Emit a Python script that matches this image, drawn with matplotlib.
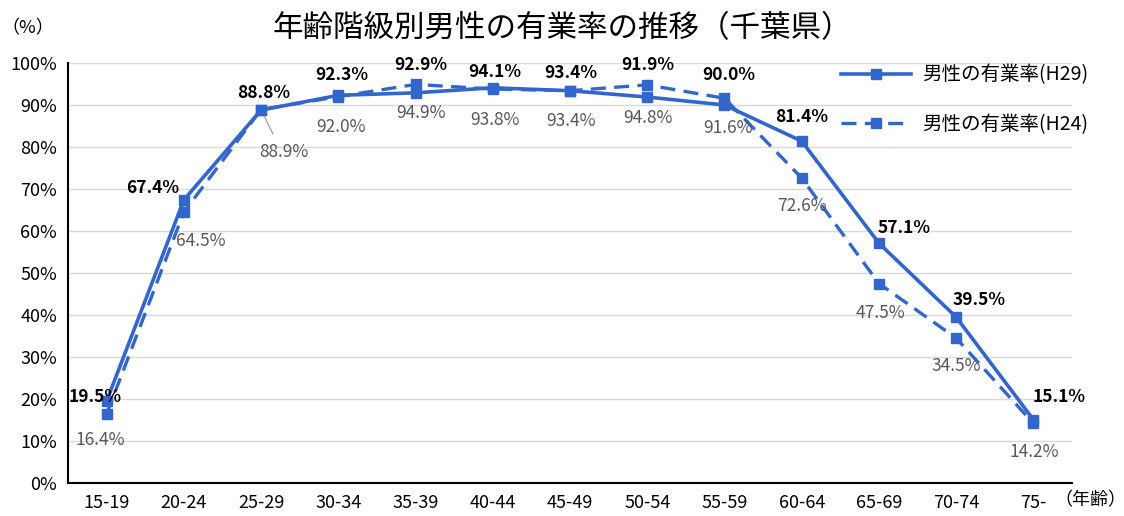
import matplotlib.pyplot as plt

plt.rcParams['font.family'] = ['Noto Sans CJK JP', 'DejaVu Sans']

# age groups and rates (%)
ages = ["15-19", "20-24", "25-29", "30-34", "35-39", "40-44", "45-49",
        "50-54", "55-59", "60-64", "65-69", "70-74", "75-"]
rate_h29 = [19.5, 67.4, 88.8, 92.3, 92.9, 94.1, 93.4, 91.9, 90.0, 81.4, 57.1, 39.5, 15.1]
rate_h24 = [16.4, 64.5, 88.9, 92.0, 94.9, 93.8, 93.4, 94.8, 91.6, 72.6, 47.5, 34.5, 14.2]

# label offsets in pixels (dx, dy)
off_h29 = [(-11, 4), (-31, 12), (3, 17), (3, 20), (5, 28), (2, 16), (1, 18),
           (1, 32), (4, 30), (0, 24), (25, 15), (23, 17), (26, 23)]
off_h24 = [(-6, -26), (17, -29), (23, -42), (3, -30), (5, -29), (2, -31), (1, -30),
           (1, -33), (4, -30), (0, -28), (2, -30), (0, -28), (1, -29)]

blue = "#3366CC"

fig = plt.figure(figsize=(11.24, 5.16), dpi=100)
ax = fig.add_axes([68 / 1124, 33 / 516, 1004 / 1124, 420 / 516])

x = list(range(len(ages)))
ax.plot(x, rate_h24, color=blue, lw=2.4, ls=(0, (4.5, 2.5)), marker="s", ms=7,
        label="男性の有業率(H24)", zorder=3)
ax.plot(x, rate_h29, color=blue, lw=2.6, marker="s", ms=7,
        label="男性の有業率(H29)", zorder=4)

for i, v in enumerate(rate_h29):
    ax.annotate(f"{v:.1f}%", (i, v), xytext=off_h29[i], textcoords="offset pixels",
                ha="center", va="center", fontsize=12.5, fontweight="bold",
                color="black", zorder=6)
for i, v in enumerate(rate_h24):
    ax.annotate(f"{v:.1f}%", (i, v), xytext=off_h24[i], textcoords="offset pixels",
                ha="center", va="center", fontsize=12.5, color="#595959", zorder=6)
# leader line for 25-29 H24 label
ax.annotate("", (2, rate_h24[2]), xytext=(2.17, 82.5),
            arrowprops=dict(arrowstyle="-", color="#A6A6A6", lw=1))

ax.set_xlim(-0.5, len(ages) - 0.5)
ax.set_ylim(0, 100)
ax.set_yticks(range(0, 101, 10))
ax.set_yticklabels([f"{t}%" for t in range(0, 101, 10)], fontsize=13)
ax.set_xticks(x)
ax.set_xticklabels(ages, fontsize=13)
ax.tick_params(length=0, pad=8)
ax.grid(axis="y", color="#D9D9D9", lw=1)
ax.set_axisbelow(True)
for s in ["top", "right"]:
    ax.spines[s].set_visible(False)
ax.spines["left"].set_color("black")
ax.spines["bottom"].set_color("black")
ax.spines["left"].set_linewidth(1.5)
ax.spines["bottom"].set_linewidth(1.5)

fig.text(0.5, 0.945, "年齢階級別男性の有業率の推移（千葉県）", ha="center", va="center",
         fontsize=22)
fig.text(28 / 1124, 0.945, "（%）", ha="center", va="center", fontsize=13)
fig.text(1090 / 1124, 1 - 500 / 516, "（年齢）", ha="center", va="center", fontsize=13)

handles, labels = ax.get_legend_handles_labels()
fig.legend(handles[::-1], labels[::-1], loc="upper right",
           bbox_to_anchor=(1106 / 1124, 1 - 47 / 516), frameon=False,
           fontsize=14, handlelength=3.6, handletextpad=0.6, labelspacing=1.45)

plt.savefig("out.png", dpi=100)
